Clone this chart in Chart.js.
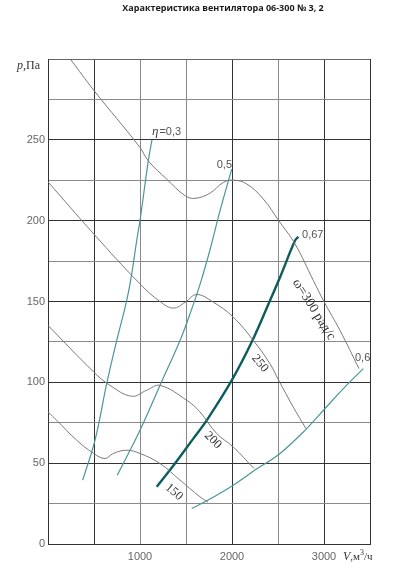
<!DOCTYPE html>
<html>
<head>
<meta charset="utf-8">
<script src="https://cdn.jsdelivr.net/npm/chart.js@4.4.0/dist/chart.umd.min.js"></script>
<style>
  html, body { margin: 0; padding: 0; background: #fff; }
</style>
</head>
<body>
<canvas id="fanChart" width="394" height="577"></canvas>
<script>
// pressure curves p(V) for each rotation speed, rad/s
const v300 = [250, 497, 1000, 1090, 1290, 1492, 1598, 1760, 1905, 2014, 2160, 2340, 2508, 2685, 2884, 3003, 3174, 3380];
const p300 = [299.4, 280.7, 245.3, 237, 225.7, 215.4, 213.8, 217, 223.6, 225.1, 222.7, 213.4, 200, 185.6, 163, 149.6, 132.1, 108.5];

const v250 = [0, 497, 1000, 1217, 1362, 1490, 1616, 1797, 2014, 2232, 2413, 2508, 2666, 2804];
const p250 = [224, 191.8, 160.9, 150, 145.9, 149.5, 154.3, 149.6, 140.3, 125.9, 111.5, 101.2, 84.7, 71.4];

const v200 = [0, 497, 674, 910, 1073, 1217, 1508, 1652, 1834, 2014, 2239];
const p200 = [135.2, 106.4, 98.1, 91.4, 95.1, 98.1, 88.9, 81.7, 68.3, 60, 46.7];

const v150 = [0, 95, 312, 497, 620, 710, 855, 1000, 1217, 1435, 1652, 1739];
const p150 = [81.7, 76.5, 64.2, 56, 52.9, 56, 58, 56, 49.8, 39.5, 29.2, 25.9];

// efficiency curves
const vEta03 = [377, 511, 638, 747, 855, 910, 964, 1000, 1090, 1130];
const pEta03 = [39.5, 64.2, 99.2, 125.9, 150.6, 167.1, 187.7, 200, 237, 250];

const vEta05 = [753, 1000, 1217, 1435, 1560, 1660, 1761, 1870, 1997];
const pEta05 = [42.6, 70.4, 98.1, 125.9, 145, 162, 182, 206.2, 231.9];

const vEta067 = [1182, 1380, 1579, 1725, 1997, 2214, 2413, 2522, 2685, 2721];
const pEta067 = [35.4, 49.8, 65.2, 76.5, 101.2, 124.9, 150.6, 165, 187.7, 190.1];

const vEta06 = [1562, 1725, 2014, 2250, 2522, 2812, 3011, 3210, 3427];
const pEta06 = [22, 26.7, 36.4, 45.7, 56, 71.4, 83.8, 96.1, 108.5];

// tick labels
const xTickLabels = [1000, 2000, 3000];
const yTickLabels = [0, 50, 100, 150, 200, 250];

// curve captions: text, V, p, angle (deg), alignment
const captions = [
  { text: '0,5', v: 2000, p: 232.7, angle: 0, align: 'right', serif: false, size: 11 },
  { text: '0,67', v: 2761, p: 189.5, angle: 0, align: 'left', serif: false, size: 11 },
  { text: '0,6', v: 3337, p: 113, angle: 0, align: 'left', serif: false, size: 11 },
  { text: 'ω=300 рад/с', v: 2891, p: 145, angle: 58, align: 'center', serif: true, size: 13.5 },
  { text: '250', v: 2304, p: 111.7, angle: 50, align: 'center', serif: true, size: 12.5 },
  { text: '200', v: 1793, p: 64.2, angle: 45, align: 'center', serif: true, size: 12.5 },
  { text: '150', v: 1370, p: 32.1, angle: 40, align: 'center', serif: true, size: 12.5 }
];

function toPoints(xs, ys) {
  return xs.map((x, i) => ({ x: x, y: ys[i] }));
}

function curve(xs, ys, color, width) {
  return {
    data: toPoints(xs, ys),
    showLine: true,
    borderColor: color,
    borderWidth: width,
    pointRadius: 0,
    fill: false,
    tension: 0.4
  };
}

const grayLine = '#7a7a7a';
const tealLine = '#4b9797';

const captionPlugin = {
  id: 'captions',
  afterDatasetsDraw(chart) {
    const ctx = chart.ctx;
    const xs = chart.scales.x, ys = chart.scales.y;
    const area = chart.chartArea;
    ctx.save();

    captions.forEach(c => {
      ctx.save();
      ctx.translate(xs.getPixelForValue(c.v), ys.getPixelForValue(c.p));
      ctx.rotate(c.angle * Math.PI / 180);
      ctx.font = c.size + 'px ' + (c.serif ? '"Liberation Serif"' : '"Liberation Sans"');
      ctx.fillStyle = c.serif ? '#333' : '#555';
      ctx.textAlign = c.align;
      ctx.textBaseline = c.angle ? 'middle' : 'alphabetic';
      ctx.fillText(c.text, 0, 0);
      ctx.restore();
    });

    // η=0,3 caption
    let x = xs.getPixelForValue(1130), y = ys.getPixelForValue(253.2);
    ctx.textBaseline = 'alphabetic';
    ctx.textAlign = 'left';
    ctx.fillStyle = '#444';
    ctx.font = 'italic 13px "Liberation Serif"';
    ctx.fillText('η', x, y);
    x += ctx.measureText('η').width + 1;
    ctx.fillStyle = '#555';
    ctx.font = '11px "Liberation Sans"';
    ctx.fillText('=0,3', x, y);

    // axis titles
    ctx.fillStyle = '#333';
    x = area.left - 31; y = area.top + 10;
    ctx.font = 'italic 12px "Liberation Serif"';
    ctx.fillText('p', x, y);
    x += ctx.measureText('p').width;
    ctx.font = '12px "Liberation Serif"';
    ctx.fillText(',Па', x, y);

    x = area.right - 27; y = area.bottom + 16;
    ctx.font = 'italic 12px "Liberation Serif"';
    ctx.fillText('V', x, y);
    x += ctx.measureText('V').width;
    ctx.font = '11px "Liberation Serif"';
    ctx.fillText(',м', x, y);
    x += ctx.measureText(',м').width;
    ctx.font = '8px "Liberation Serif"';
    ctx.fillText('3', x, y - 5);
    x += ctx.measureText('3').width;
    ctx.font = '11px "Liberation Serif"';
    ctx.fillText('/ч', x, y);

    // chart title
    ctx.fillStyle = '#1a1a1a';
    ctx.font = 'bold 9px "Open Sans"';
    ctx.textAlign = 'center';
    ctx.textBaseline = 'middle';
    ctx.fillText('Характеристика вентилятора 06-300 № 3, 2', 223, 8);
    ctx.restore();
  }
};

const darkX = [500, 2000, 3000, 3500];

new Chart(document.getElementById('fanChart'), {
  type: 'scatter',
  data: {
    datasets: [
      curve(v300, p300, grayLine, 1),
      curve(v250, p250, grayLine, 1),
      curve(v200, p200, grayLine, 1),
      curve(v150, p150, grayLine, 1),
      curve(vEta03, pEta03, tealLine, 1.2),
      curve(vEta05, pEta05, tealLine, 1.2),
      curve(vEta06, pEta06, tealLine, 1.2),
      curve(vEta067, pEta067, '#0d5d5d', 2.4)
    ]
  },
  options: {
    responsive: false,
    animation: false,
    layout: { padding: { left: 0, right: 24, top: 59, bottom: 0 } },
    plugins: {
      legend: { display: false },
      title: { display: false },
      tooltip: { enabled: false }
    },
    scales: {
      x: {
        type: 'linear',
        min: 0,
        max: 3500,
        afterFit(scale) { scale.height = 33; },
        afterBuildTicks(scale) {
          scale.ticks = [];
          for (let v = 0; v <= 3500; v += 500) scale.ticks.push({ value: v });
        },
        ticks: {
          autoSkip: false,
          maxRotation: 0,
          padding: 6,
          color: '#666',
          font: { family: 'Liberation Sans', size: 11 },
          callback: v => xTickLabels.includes(v) ? String(v) : ''
        },
        grid: {
          drawTicks: false,
          color: c => darkX.includes(c.tick.value) ? '#333' : '#8a8a8a',
          lineWidth: 1
        },
        border: { display: true, color: '#333', width: 1 }
      },
      y: {
        type: 'linear',
        min: 0,
        max: 300,
        afterFit(scale) { scale.width = 48; },
        afterBuildTicks(scale) {
          scale.ticks = [];
          for (let v = 0; v <= 300; v += 25) scale.ticks.push({ value: v });
        },
        ticks: {
          autoSkip: false,
          padding: 3,
          color: '#666',
          font: { family: 'Liberation Sans', size: 11 },
          callback: v => yTickLabels.includes(v) ? String(v) : ''
        },
        grid: {
          drawTicks: false,
          color: c => c.tick.value === 300 ? '#666' : (c.tick.value % 50 === 0 ? '#333' : '#8a8a8a'),
          lineWidth: 1
        },
        border: { display: true, color: '#333', width: 1 }
      }
    }
  },
  plugins: [captionPlugin]
});
</script>
</body>
</html>
